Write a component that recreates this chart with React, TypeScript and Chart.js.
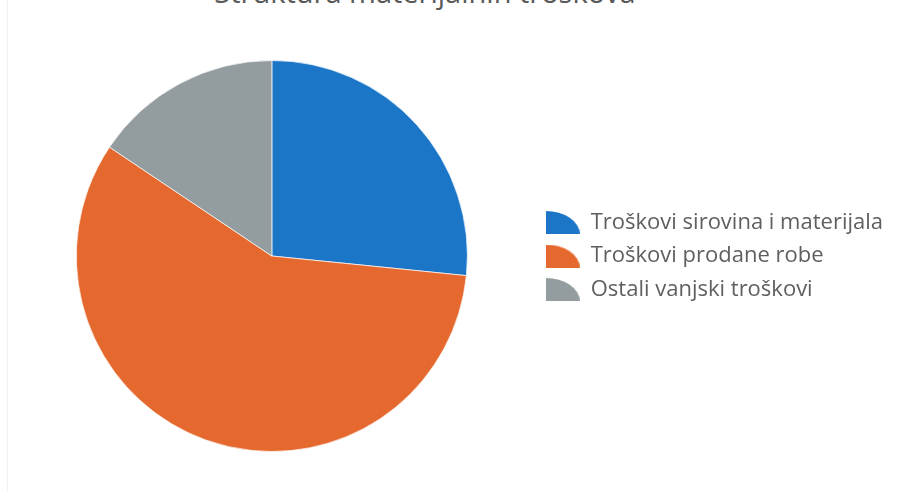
import React, { useEffect, useRef } from "react";
import { Chart, registerables } from "chart.js";

Chart.register(...registerables);

const title = "Struktura materijalnih troškova";
const categories = [
  "Troškovi sirovina i materijala",
  "Troškovi prodane robe",
  "Ostali vanjski troškovi",
];
const shares = [26.6, 57.8, 15.6];
const colors = ["#1c76c8", "#e5692f", "#939c9f"];

function wedgeIcon(color: string): HTMLCanvasElement {
  const c = document.createElement("canvas");
  const w = 34;
  const h = 23;
  c.width = w;
  c.height = h;
  const ctx = c.getContext("2d")!;
  ctx.fillStyle = color;
  ctx.beginPath();
  ctx.moveTo(0, h);
  ctx.lineTo(0, 0);
  ctx.ellipse(0, h, w, h, 0, -Math.PI / 2, 0);
  ctx.closePath();
  ctx.fill();
  return c;
}

export default function App() {
  const ref = useRef<HTMLCanvasElement | null>(null);
  useEffect(() => {
    if (!ref.current) return;
    const icons = colors.map(wedgeIcon);
    const chart = new Chart(ref.current, {
      type: "pie",
      data: {
        labels: categories,
        datasets: [
          {
            data: shares,
            backgroundColor: colors,
            borderColor: "rgba(255,255,255,0.7)",
            borderWidth: 1,
          },
        ],
      },
      options: {
        animation: false,
        responsive: false,
        maintainAspectRatio: false,
        layout: { padding: { left: 9.5, right: 14, top: 60, bottom: 39 } },
        plugins: {
          title: { display: false },
          tooltip: { enabled: false },
          legend: {
            position: "right",
            align: "center",
            labels: {
              usePointStyle: true,
              pointStyleWidth: 34,
              padding: 11.5,
              color: "#5f5f5f",
              font: { family: "'Open Sans', sans-serif", size: 22 },
              generateLabels: (ch: any) =>
                categories.map((t, i) => ({
                  text: t,
                  fillStyle: colors[i],
                  strokeStyle: colors[i],
                  lineWidth: 0,
                  pointStyle: icons[i],
                  hidden: false,
                  index: i,
                  fontColor: "#5f5f5f",
                })),
            },
          },
        },
      },
    });
    return () => chart.destroy();
  }, []);
  return (
    <div
      style={{
        position: "fixed",
        left: 0,
        top: 0,
        width: 907,
        height: 491,
        background: "#fff",
        overflow: "hidden",
      }}
    >
      <div
        style={{
          position: "absolute",
          left: 7,
          top: 0,
          width: 1,
          height: 491,
          background: "#eef0f1",
        }}
      />
      <div
        style={{
          position: "absolute",
          left: 125,
          width: 600,
          top: -23,
          textAlign: "center",
          fontFamily: "'Open Sans', sans-serif",
          fontSize: 29,
          lineHeight: "29px",
          color: "#595959",
          whiteSpace: "nowrap",
        }}
      >
        {title}
      </div>
      <canvas
        ref={ref}
        width={907}
        height={491}
        style={{ position: "absolute", left: 0, top: 0, width: 907, height: 491 }}
      />
    </div>
  );
}
